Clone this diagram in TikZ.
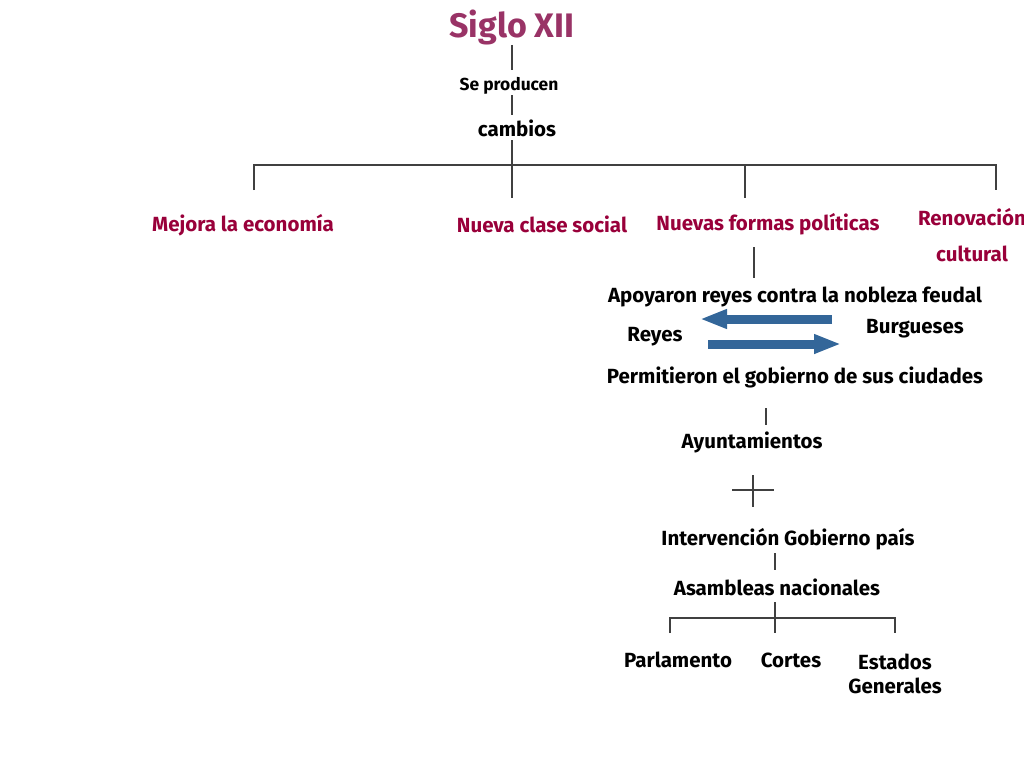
\documentclass[tikz,border=0pt]{standalone}
\usepackage{fontspec}
\setmainfont{Fira Sans}
\usepackage{tikz}
\usetikzlibrary{calc, arrows, arrows.meta}
\definecolor{titulo}{HTML}{993366}
\definecolor{rama}{HTML}{99003A}
\definecolor{flecha}{HTML}{336699}
\definecolor{linea}{HTML}{404040}
\tikzstyle{txt}=[font=\bfseries\fontsize{20.5}{24}\selectfont, inner sep=0pt, align=center]
\tikzstyle{cat}=[txt, text=rama]
\tikzstyle{ln}=[draw=linea, line width=1.4pt]
\tikzstyle{fat}=[draw=flecha, line width=9pt, -{Triangle[length=27pt,width=18pt]}]

\begin{document}
\begin{tikzpicture}[x=1pt,y=-1pt,auto,>=latex']
      \useasboundingbox (0,0) rectangle (1024,768);
      \node [font=\bfseries\fontsize{34}{40}\selectfont, text=titulo, inner sep=0pt] (siglo) at (512,27) {Siglo XII};
      \node [txt, font=\bfseries\fontsize{17.4}{20}\selectfont] (prod) at (509,86) {Se producen};
      \node [txt] (camb) at (517,128) {cambios};

      \node [cat] (eco) at (243,225) {Mejora la economía};
      \node [cat] (soc) at (542,224) {Nueva clase social};
      \node [cat] (pol) at (768,224) {Nuevas formas políticas};
      \node [cat, font=\bfseries\fontsize{20.5}{36}\selectfont] (cult) at (972,235) {Renovación\\cultural};

      \node [txt] (apoy) at (795,297) {Apoyaron reyes contra la nobleza feudal};
      \node [txt] (reyes) at (655,337) {Reyes};
      \node [txt] (burg) at (915,329) {Burgueses};
      \node [txt] (perm) at (795,377) {Permitieron el gobierno de sus ciudades};
      \node [txt] (ayun) at (752,442) {Ayuntamientos};
      \node [txt] (interv) at (788,539) {Intervención Gobierno país};
      \node [txt] (asamb) at (777,587) {Asambleas nacionales};
      \node [txt] (parl) at (678,660) {Parlamento};
      \node [txt] (cortes) at (791,660) {Cortes};
      \node [txt, font=\bfseries\fontsize{20.5}{24}\selectfont] (estados) at (895,674) {Estados\\Generales};

      % tree lines
      \coordinate (s1) at (512,45);
      \coordinate (s2) at (512,70);
      \coordinate (p1) at (512,95);
      \coordinate (p2) at (512,115);
      \coordinate (c1) at (512,140);
      \coordinate (c2) at (512,198);
      \coordinate (bl) at (254,165);
      \coordinate (br) at (996,165);
      \draw [ln] (s1) -- (s2);
      \draw [ln] (p1) -- (p2);
      \draw [ln] (c1) -- (c2);
      \draw [ln] (254,190) -- (bl) -- (br) -- (996,190);
      \draw [ln] (745,165) -- (745,198);
      \draw [ln] (754,247) -- (754,278);

      % reyes y burgueses
      \coordinate (a1) at (832,319);
      \coordinate (a2) at (700,319);
      \coordinate (b1) at (708,344);
      \coordinate (b2) at (841,344);
      \draw [fat] (a1) -- (a2);
      \draw [fat] (b1) -- (b2);

      \draw [ln] (766,408) -- (766,425);
      \coordinate (x1) at (753,475);
      \coordinate (x2) at (753,507);
      \coordinate (x3) at (732,490);
      \coordinate (x4) at (774,490);
      \draw [ln] (x1) -- (x2);
      \draw [ln] (x3) -- (x4);
      \draw [ln] (775,553) -- (775,570);

      % asambleas
      \coordinate (al) at (670,618);
      \coordinate (ar) at (895,618);
      \draw [ln] (775,602) -- (775,633);
      \draw [ln] (670,633) -- (al) -- (ar) -- (895,633);
  \end{tikzpicture}
\end{document}
